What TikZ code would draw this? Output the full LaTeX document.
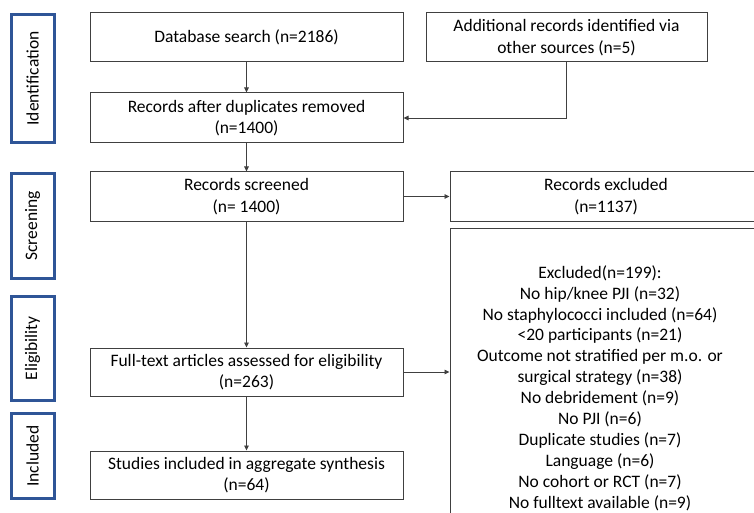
\documentclass[tikz,border=0pt]{standalone}
\usepackage{fontspec}
\setmainfont{Carlito}
\usetikzlibrary{arrows.meta}
\definecolor{stageblue}{RGB}{47,85,151}
\definecolor{boxline}{RGB}{64,64,64}
\tikzset{
  box/.style={draw=boxline, line width=1pt, rectangle, inner sep=2pt, align=center,
    font=\fontsize{17.5}{21.5}\selectfont},
  stage/.style={draw=stageblue, line width=3pt, rectangle, inner sep=0pt,
    minimum width=43pt, font=\fontsize{17.5}{21.5}\selectfont},
  conn/.style={draw=boxline, line width=0.9pt, -{Triangle[length=5pt,width=4.5pt]}},
  listtext/.style={align=center, inner sep=0pt, font=\fontsize{17.5}{20.9}\selectfont}
}
\begin{document}
\begin{tikzpicture}[x=1pt,y=-1pt]
\useasboundingbox (0,0) rectangle (754,513);
\clip (0,0) rectangle (754,513);
% stage labels
\node[stage, minimum height=128pt] (sid) at (32.5,78.5) {\rotatebox{90}{Identification}};
\node[stage, minimum height=105pt] (ssc) at (32.5,226) {\rotatebox{90}{Screening}};
\node[stage, minimum height=104pt] (sel) at (32.5,348.5) {\rotatebox{90}{Eligibility}};
\node[stage, minimum height=85pt] (sin) at (32.5,456) {\rotatebox{90}{Included}};
% main column
\node[box, minimum width=313pt, minimum height=49pt] (db) at (246.5,37.5) {Database search (n=2186)};
\node[box, minimum width=313pt, minimum height=50pt] (dup) at (246.5,118) {Records after duplicates removed\\(n=1400)};
\node[box, minimum width=313pt, minimum height=49pt] (scr) at (246.5,196.5) {Records screened\\(n= 1400)};
\node[box, minimum width=313pt, minimum height=48pt] (ft) at (246.5,372) {Full-text articles assessed for eligibility\\(n=263)};
\node[box, minimum width=313pt, minimum height=48pt] (inc) at (246.5,475) {Studies included in aggregate synthesis\\(n=64)};
% right column
\node[box, minimum width=281pt, minimum height=49pt] (add) at (566.5,37.5) {Additional records identified via\\other sources (n=5)};
\node[box, minimum width=312pt, minimum height=49pt] (rexc) at (606,196.5) {Records excluded\\(n=1137)};
\node[box, minimum width=312pt, minimum height=318pt] (excl) at (606,387) {};
\node[listtext] (excltext) at (600,388) {Excluded(n=199):\\No hip/knee PJI (n=32)\\No staphylococci included (n=64)\\<20 participants (n=21)\\Outcome not stratified per m.o. or\\surgical strategy (n=38)\\No debridement (n=9)\\No PJI (n=6)\\Duplicate studies (n=7)\\Language (n=6)\\No cohort or RCT (n=7)\\No fulltext available (n=9)};
% connectors
\draw[conn] (db) -- (dup);
\draw[conn] (add.south) |- (dup.east);
\draw[conn] (dup) -- (scr);
\draw[conn] (scr) -- (rexc);
\draw[conn] (scr) -- (ft);
\draw[conn] (ft.east) -- (ft.east -| excl.west);
\draw[conn] (ft) -- (inc);
\end{tikzpicture}
\end{document}
